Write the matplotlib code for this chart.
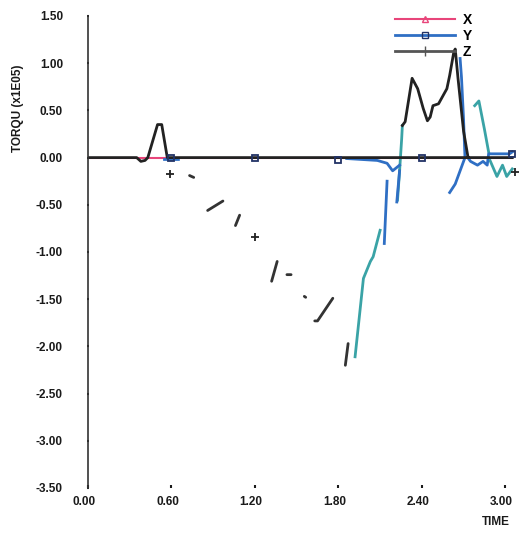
import numpy as np
import matplotlib
matplotlib.use("Agg")
import matplotlib.pyplot as plt
from matplotlib.lines import Line2D
import matplotlib.transforms as mtrans

nan = np.nan

# ---- data (time, torque x1E05) ----
x_t = [0.0, 3.05]
x_val = [0.0, 0.0]

z_t = [0.0, 0.35, 0.38, 0.41, 0.43, 0.50, 0.53, 0.57, 3.05, nan,
       2.26, 2.28, 2.33, 2.37, 2.41, 2.44, 2.46, 2.48, 2.52, 2.55, 2.58, 2.60, 2.63, 2.64, 2.66, 2.70, 2.73]
z_val = [0.0, 0.0, -0.04, -0.03, 0.0, 0.35, 0.35, 0.0, 0.0, nan,
         0.34, 0.38, 0.84, 0.73, 0.52, 0.39, 0.43, 0.55, 0.57, 0.65, 0.73, 0.87, 1.12, 1.15, 0.84, 0.28, 0.02]

ramp_t = [0.73, 0.76, nan, 0.86, 0.97, nan, 1.06, 1.09, nan, 1.32, 1.36, nan, 1.43, 1.46, nan,
          1.555, 1.565, nan, 1.63, 1.65, 1.76, nan, 1.85, 1.87]
ramp_val = [-0.19, -0.21, nan, -0.56, -0.46, nan, -0.72, -0.61, nan, -1.31, -1.10, nan, -1.24, -1.24, nan,
            -1.47, -1.48, nan, -1.73, -1.73, -1.49, nan, -2.20, -1.97]

dip_t = [1.92, 1.98, 2.03, 2.05, 2.10, nan, 2.225, 2.24, 2.255, 2.26, nan,
         2.78, 2.81, 2.85, 2.88, nan, 2.89, 2.94, 2.98, 3.01, 3.05]
dip_val = [-2.11, -1.28, -1.10, -1.05, -0.77, nan, -0.45, -0.14, 0.20, 0.34, nan,
           0.55, 0.60, 0.30, 0.06, nan, -0.03, -0.20, -0.08, -0.20, -0.12]

y_t = [0.55, 0.65, nan, 1.86, 2.08, 2.15, 2.19, 2.24, nan, 2.13, 2.15, nan, 2.22, 2.24, nan,
       2.60, 2.64, 2.68, 2.71, 2.70, 2.685, 2.675, nan,
       2.73, 2.75, 2.80, 2.84, 2.87, 2.88, 3.03, 3.05]
y_val = [-0.02, -0.02, nan, -0.01, -0.03, -0.06, -0.14, -0.08, nan, -0.91, -0.25, nan, -0.47, -0.14, nan,
         -0.37, -0.28, -0.12, 0.0, 0.40, 0.85, 1.05, nan,
         0.0, -0.04, -0.08, -0.04, -0.08, 0.04, 0.04, 0.06]

ymark_t = [0.60, 1.20, 1.80, 2.40, 3.05]
ymark_val = [0.0, 0.0, -0.03, 0.0, 0.04]
zmark_t = [0.59, 1.20, 3.07]
zmark_val = [-0.17, -0.84, -0.15]

xticks = [0.0, 0.6, 1.2, 1.8, 2.4, 3.0]
xticklabels = ["0.00", "0.60", "1.20", "1.80", "2.40", "3.00"]
yticks = [1.5, 1.0, 0.5, 0.0, -0.5, -1.0, -1.5, -2.0, -2.5, -3.0, -3.5]
yticklabels = ["1.50", "1.00", "0.50", "0.00", "-0.50", "-1.00", "-1.50", "-2.00", "-2.50", "-3.00", "-3.50"]

# ---- figure ----
W, H = 525, 538
fig = plt.figure(figsize=(W / 100, H / 100), dpi=100)
left, right, top, bottom = 88, 522, 16, 488
ax = fig.add_axes([left / W, 1 - bottom / H, (right - left) / W, (bottom - top) / H])

pink = "#e8457a"
blue = "#2f6fc4"
teal = "#3aa3a6"
dark = "#222222"

ax.plot(x_t, x_val, color=pink, lw=1.5)
ax.plot(ramp_t, ramp_val, color="#333333", lw=2.0, solid_capstyle="round")
ax.plot(dip_t, dip_val, color=teal, lw=2.0)
ax.plot(y_t, y_val, color=blue, lw=2.0)
ax.plot(z_t, z_val, color=dark, lw=2.0)
ax.plot(ymark_t, ymark_val, ls="none", marker="s", ms=5, mfc="none", mec="#223366", mew=1.3)
ax.plot(zmark_t, zmark_val, ls="none", marker="+", ms=6, color=dark, mew=1.3)

ax.set_xlim(0, 3.12)
ax.set_ylim(-3.5, 1.5)
for s in ["top", "right", "bottom"]:
    ax.spines[s].set_visible(False)
ax.spines["left"].set_linewidth(1.2)
ax.spines["left"].set_color("#333333")

fp = dict(family="Liberation Sans", weight="bold", size=8.5)
ax.set_yticks(yticks)
ax.set_yticklabels(yticklabels, **fp)
ax.set_xticks(xticks)
ax.set_xticklabels(xticklabels, **fp)
ax.tick_params(axis="y", length=2, width=1.5, direction="inout", pad=17, colors="#1a1a1a")
ax.tick_params(axis="x", length=2, width=1.5, direction="in", pad=6, colors="#1a1a1a")
off = mtrans.ScaledTranslation(-4 / 100, 0, fig.dpi_scale_trans)
for lab in ax.get_xticklabels():
    lab.set_transform(lab.get_transform() + off)

fig.text(18 / W, 1 - 108 / H, "TORQU (x1E05)", rotation=90, ha="center", va="center",
         family="Liberation Sans", weight="bold", size=8.5, color="#1a1a1a")
fig.text(496 / W, 1 - 522 / H, "TIME", ha="center", va="center",
         family="Liberation Sans", weight="bold", size=8.5, color="#1a1a1a")

handles = [Line2D([], [], color=pink, lw=1.5, marker="^", ms=4, mfc="none"),
           Line2D([], [], color=blue, lw=2.0, marker="s", ms=4, mfc="none", mec="#223366"),
           Line2D([], [], color="#555555", lw=2.0, marker="|", ms=7)]
leg = fig.legend(handles, ["X", "Y", "Z"], loc="upper left",
                 bbox_to_anchor=(395 / W, 1 - 13 / H), frameon=False,
                 handlelength=4.3, handletextpad=0.6, labelspacing=0.15,
                 prop=dict(family="Liberation Sans", weight="bold", size=10),
                 borderpad=0, borderaxespad=0)

fig.savefig("out.png", dpi=100)
